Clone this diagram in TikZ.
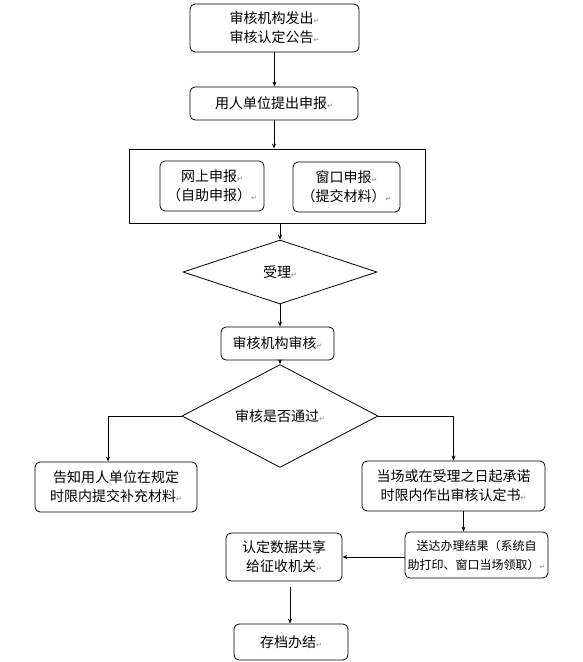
\documentclass[tikz,border=0pt]{standalone}
\usepackage{fontspec}
\setmainfont{Noto Sans CJK SC}
\newfontfamily\symfont{DejaVu Sans}
\usepackage{tikz}
\usetikzlibrary{arrows.meta}
\usetikzlibrary{shapes.geometric}
\newcommand{\retmark}{{\symfont\fontsize{7}{7}\selectfont\color{gray}↵}}
\begin{document}
\begin{tikzpicture}[x=1pt, y=-1pt,
      every node/.style={font=\fontsize{14}{19}\selectfont, align=center, inner sep=0pt},
      box/.style={rectangle, rounded corners=5pt, draw, line width=0.8pt},
      choice/.style={diamond, draw, line width=0.8pt},
      flow/.style={-{Stealth[length=5pt, width=4pt]}, line width=0.8pt}]
         \useasboundingbox (0,0) rectangle (582,662);

         \node (notice) at (274.5,28) [box, minimum width=169pt, minimum height=48pt]
            {审核机构发出\retmark\\审核认定公告\retmark};
         \node (apply) at (274,103.5) [box, minimum width=168pt, minimum height=33pt]
            {用人单位提出申报\retmark};
         \node (ways) at (277,186) [rectangle, draw, line width=0.8pt,
            minimum width=296pt, minimum height=74pt] {};
         \node (online) at (212,186) [box, minimum width=104pt, minimum height=50pt]
            {网上申报\retmark\\（自助申报）\retmark};
         \node (window) at (346.5,187) [box, minimum width=107pt, minimum height=50pt]
            {窗口申报\retmark\\（提交材料）\retmark};
         \node (accept) at (280,272) [choice, minimum width=194pt, minimum height=64pt]
            {受理\retmark};
         \node (review) at (277.5,343.5) [box, minimum width=113pt, minimum height=33pt]
            {审核机构审核\retmark};
         \node (pass) at (280,416) [choice, minimum width=196pt, minimum height=67pt]
            {审核是否通过\retmark};
         \node (supply) at (116,487) [box, minimum width=162pt, minimum height=50pt]
            {告知用人单位在规定\\时限内提交补充材料\retmark};
         \node (issue) at (453.5,486) [box, minimum width=183pt, minimum height=50pt]
            {当场或在受理之日起承诺\\时限内作出审核认定书\retmark};
         \node (deliver) at (476.5,555) [box, minimum width=143pt, minimum height=46pt,
            font=\fontsize{12}{19}\selectfont]
            {送达办理结果（系统自\\助打印、窗口当场领取）\retmark};
         \node (share) at (284,557) [box, minimum width=116pt, minimum height=48pt]
            {认定数据共享\\给征收机关\retmark};
         \node (archive) at (291,642) [box, minimum width=114pt, minimum height=36pt]
            {存档办结\retmark};

         \draw [flow] (notice.south) -- (notice.south |- apply.north);
         \draw [flow] (apply.south) -- (apply.south |- ways.north);
         \draw [flow] (accept.north |- ways.south) -- (accept.north);
         \draw [flow] (accept.south) -- (accept.south |- review.north);
         \draw [flow] (pass.north |- review.south) -- (pass.north);
         \draw [flow] (pass.west) -| ([xshift=-8pt]supply.north);
         \draw [flow] (pass.east) -| (issue.north);
         \draw [flow] ([xshift=10pt]issue.south) -- ([xshift=10pt]issue.south |- deliver.north);
         \draw [flow] ([yshift=-2pt]deliver.west) -- ([yshift=-2pt]deliver.west -| share.east);
         \draw [flow, shorten <=6pt] ([xshift=6pt]share.south) -- ([xshift=6pt]share.south |- archive.north);
      \end{tikzpicture}
\end{document}
